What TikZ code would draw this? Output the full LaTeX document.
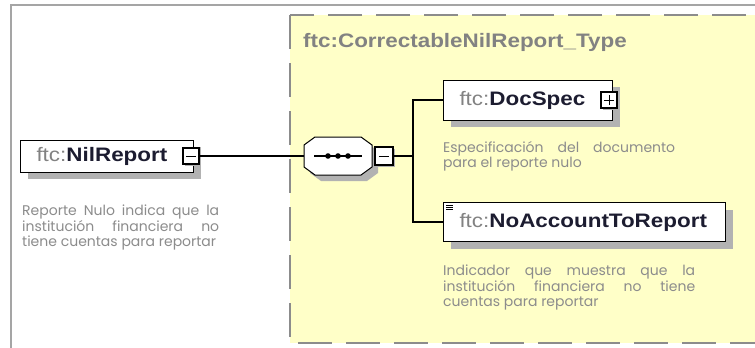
\documentclass[tikz,border=0pt]{standalone}
\usepackage{fontspec}
\setmainfont{Liberation Sans}[FakeStretch=1.15]
\newfontfamily\descfont{Poppins}
\usetikzlibrary{shadows,positioning}

\definecolor{boxyellow}{RGB}{255,255,200}
\definecolor{framegray}{RGB}{165,165,165}
\definecolor{dashgray}{RGB}{140,140,140}
\definecolor{textgray}{RGB}{130,130,130}
\definecolor{descgray}{RGB}{140,140,140}
\definecolor{namedark}{RGB}{28,28,48}
\definecolor{shadowgray}{RGB}{178,178,178}

\newcommand\elname[1]{{\color{textgray}ftc:}{\bfseries\color{namedark}#1}}
\newcommand\descstyle{\descfont\fontsize{14}{15.5}\selectfont\hyphenpenalty10000\exhyphenpenalty10000\relax}
\newcommand\octpath{+(-34,-11) -- +(-23,-19) -- +(23,-19) -- +(34,-11) -- +(34,11) -- +(23,19) -- +(-23,19) -- +(-34,11) -- cycle}

\begin{document}
\begin{tikzpicture}[x=1pt,y=-1pt,
  elem/.style={draw,line width=1pt,fill=white,inner xsep=16pt,inner ysep=0pt,align=left,
    font=\fontsize{19.5}{22}\selectfont,
    general shadow={fill=shadowgray,shadow xshift=7pt,shadow yshift=-7pt}},
  toggle/.style={draw,line width=1.5pt,fill=white,minimum size=16pt,inner sep=0pt,
    general shadow={fill=shadowgray,shadow xshift=2pt,shadow yshift=-2pt}},
  minusbox/.style={toggle,path picture={
    \draw[line width=1pt] ([xshift=-5pt]path picture bounding box.center) -- ([xshift=5pt]path picture bounding box.center);}},
  plusbox/.style={toggle,path picture={
    \draw[line width=1pt] ([xshift=-5pt]path picture bounding box.center) -- ([xshift=5pt]path picture bounding box.center);
    \draw[line width=1pt] ([yshift=-5pt]path picture bounding box.center) -- ([yshift=5pt]path picture bounding box.center);}},
  desc/.style={anchor=north west,inner sep=0pt,align=justify,text=descgray,font=\descstyle},
  conn/.style={line width=1.2pt}]

  \useasboundingbox (0,0) rectangle (755,348);
  \clip (0,0) rectangle (755,348);
  \fill[white] (0,0) rectangle (755,348);

  % outer frame and type box
  \draw[framegray,line width=1.5pt] (11,352) -- (11,5) -- (760,5);
  \draw[dashgray,fill=boxyellow,line width=1.8pt,dash pattern=on 34pt off 14pt]
    (290,15) rectangle (790,343);
  \node [anchor=west,inner sep=0pt,text=textgray,font=\bfseries\fontsize{19.5}{22}\selectfont]
    (title) at (303,42) {ftc:CorrectableNilReport\_Type};

  % root element
  \node [elem,anchor=west,text width=141pt,minimum height=32pt] (nil) at (20,156) {\elname{NilReport}};
  \node [minusbox] (nilm) at ([xshift=-3pt]nil.east) {};
  \node [desc,text width=197pt] (nild) at (22,205)
    {Reporte Nulo indica que la\linebreak institución financiera no\linebreak tiene cuentas para reportar};

  % sequence
  \node [minimum width=68pt,minimum height=38pt,inner sep=0pt] (seq) at (338,156) {};
  \fill[shadowgray] ([shift={(6,6)}]seq.center) \octpath;
  \draw[line width=1pt,fill=white] (seq.center) \octpath;
  \draw[line width=1.2pt] ([xshift=-24pt]seq.center) -- ([xshift=24pt]seq.center);
  \foreach \dx in {-10,0,10}
    \fill ([xshift=\dx pt]seq.center) circle (2.8);
  \node [minusbox,minimum size=18pt,right=2pt of seq] (seqm) {};
  \coordinate (split) at (413,156);

  % children
  \node [elem,anchor=west,text width=137pt,minimum height=40pt] (doc) at (443,100) {\elname{DocSpec}};
  \node [plusbox] (docp) at ([xshift=-4pt]doc.east) {};
  \node [desc,text width=232pt] (docd) at (443,141)
    {Especificación del documento\linebreak para el reporte nulo};

  \node [elem,anchor=west,text width=250pt,minimum height=39pt] (noacc) at (443,222) {\elname{NoAccountToReport}};
  \foreach \k in {0,1,2}
    \draw[line width=0.8pt] ([shift={(3,3+2.2*\k)}]noacc.north west) -- ++(7,0);
  \node [desc,text width=252pt] (noaccd) at (443,265)
    {Indicador que muestra que la\linebreak institución financiera no tiene\linebreak cuentas para reportar};

  % connectors
  \draw[conn] (nilm.east) -- (seq.west);
  \draw[conn] (seqm.east) -- (split);
  \draw[conn] (doc.west) -| (split) |- (noacc.west);
\end{tikzpicture}
\end{document}
